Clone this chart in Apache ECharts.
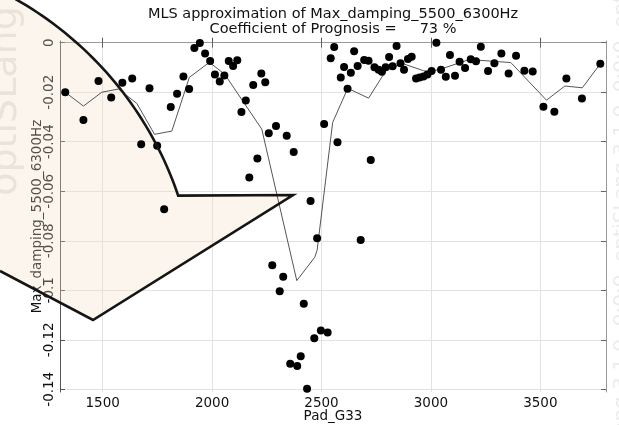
<!DOCTYPE html>
<html>
<head>
<meta charset="utf-8">
<script src="https://cdn.jsdelivr.net/npm/echarts@6/dist/echarts.min.js"></script>
<style>
  html, body { margin: 0; padding: 0; background: #fff; }
  #chart { width: 619px; height: 425px; }
</style>
</head>
<body>
<div id="chart"></div>
<script>
// 散点数据 (Pad_G33, Max_damping_5500_6300Hz)
var padX = [1329, 1412, 1481, 1539, 1590, 1635, 1676, 1714, 1749, 1781, 1811, 1840, 1869, 1895, 1919, 1944, 1968, 1991, 2013, 2035,
  2056, 2076, 2096, 2115, 2134, 2154, 2170, 2188, 2207, 2225, 2243, 2259, 2275, 2292, 2309, 2325, 2341, 2357, 2373, 2389,
  2405, 2419, 2434, 2450, 2467, 2480, 2497, 2512, 2528, 2542, 2558, 2573, 2588, 2603, 2619, 2634, 2649, 2665, 2679, 2695,
  2715, 2725, 2742, 2761, 2776, 2793, 2809, 2825, 2843, 2861, 2877, 2895, 2912, 2932, 2948, 2966, 2984, 3003, 3025, 3046,
  3068, 3087, 3110, 3131, 3156, 3182, 3206, 3228, 3261, 3290, 3322, 3355, 3389, 3427, 3465, 3514, 3564, 3619, 3690, 3774];
var dampY = [-0.0200, -0.0312, -0.0155, -0.0221, -0.0162, -0.0145, -0.0410, -0.0184, -0.0416, -0.0673, -0.0260, -0.0206, -0.0136, -0.0187, -0.0021, -0.0001, -0.0043, -0.0074, -0.0128, -0.0157,
  -0.0132, -0.0074, -0.0094, -0.0071, -0.0280, -0.0233, -0.0544, -0.0171, -0.0468, -0.0124, -0.0160, -0.0366, -0.0899, -0.0336, -0.1004, -0.0945, -0.0376, -0.1297, -0.0441, -0.1306,
  -0.1267, -0.1054, -0.1398, -0.0639, -0.1194, -0.0790, -0.1163, -0.0328, -0.1171, -0.0063, -0.0017, -0.0402, -0.0140, -0.0098, -0.0186, -0.0121, -0.0034, -0.0094, -0.0797, -0.0070,
  -0.0073, -0.0474, -0.0099, -0.0109, -0.0117, -0.0099, -0.0058, -0.0095, -0.0013, -0.0083, -0.0109, -0.0066, -0.0057, -0.0144, -0.0140, -0.0136, -0.0128, -0.0114, 0.0000, -0.0109,
  -0.0137, -0.0050, -0.0133, -0.0077, -0.0102, -0.0067, -0.0075, -0.0016, -0.0114, -0.0083, -0.0043, -0.0124, -0.0053, -0.0113, -0.0116, -0.0259, -0.0279, -0.0145, -0.0225, -0.0085];

// MLS 近似曲线
var mlsX = [1329, 1412, 1496, 1572, 1656, 1737, 1816, 1896, 1988, 2058, 2227, 2387, 2469, 2480, 2551, 2620, 2715, 2795, 2870, 2966,
  2995, 3050, 3175, 3365, 3528, 3612, 3692, 3774];
var mlsY = [-0.0200, -0.0256, -0.0200, -0.0187, -0.0245, -0.0370, -0.0357, -0.0140, -0.0079, -0.0128, -0.0349, -0.0961, -0.0867, -0.0838, -0.0322, -0.0184, -0.0224, -0.0112, -0.0084, -0.0113,
  -0.0117, -0.0105, -0.0068, -0.0080, -0.0232, -0.0175, -0.0182, -0.0085];

// 刻度
var xTicks = [1500, 2000, 2500, 3000, 3500];
var yTicks = [-0.14, -0.12, -0.1, -0.08, -0.06, -0.04, -0.02, 0];

var titleText = 'MLS approximation of Max_damping_5500_6300Hz\nCoefficient of Prognosis =     73 %';

function zip(a, b) {
    return a.map(function (v, i) { return [v, b[i]]; });
}

// 覆盖图形的圆弧轮廓 (像素坐标)
function logoOutline() {
    var cx = -160, cy = 310, r = 357;
    var a0 = Math.atan2(0 - cy, 15 - cx);
    var a1 = Math.atan2(195 - cy, 180 - cx);
    var pts = [];
    for (var i = 0; i <= 40; i++) {
        var a = a0 + (a1 - a0) * i / 40;
        pts.push([cx + r * Math.cos(a), cy + r * Math.sin(a)]);
    }
    pts.push([293, 195], [93, 320], [0, 271]);
    return pts;
}

function init() {
    var chart = echarts.init(document.getElementById('chart'));
    var font = 'DejaVu Sans';
    var xRange = { min: 1305, max: 3800 };
    var yRange = { min: -0.1411, max: 0.0007 };
    var outline = logoOutline();
    var fillPts = [[0, 0]].concat(outline);
    var plain = function (v) { return String(v); };

    var option = {
        animation: false,
        textStyle: { fontFamily: font },
        title: {
            text: titleText,
            left: 328, top: 2, textAlign: 'center',
            textStyle: { fontFamily: font, fontSize: 14.5, fontWeight: 'normal', color: '#111', lineHeight: 14.5 }
        },
        grid: { left: 60, right: 13, top: 41, bottom: 33, outerBoundsMode: 'none' },
        xAxis: [{
            type: 'value', min: xRange.min, max: xRange.max,
            name: 'Pad_G33', nameLocation: 'middle', nameGap: 17, nameMoveOverlap: false,
            nameTextStyle: { fontFamily: font, fontSize: 13.5, color: '#111' },
            axisLine: { show: true, lineStyle: { color: '#555', width: 1 } },
            axisTick: { show: true, inside: true, length: 5, customValues: xTicks, lineStyle: { color: '#555' } },
            axisLabel: { customValues: xTicks, formatter: plain, fontFamily: font, fontSize: 13.5, color: '#111', margin: 4 },
            splitLine: { show: true, lineStyle: { color: '#e2e2e2' } }
        }, {
            type: 'value', position: 'top', min: xRange.min, max: xRange.max,
            axisLine: { show: true, lineStyle: { color: '#999', width: 1 } },
            axisTick: { show: true, inside: true, length: 5, customValues: xTicks, lineStyle: { color: '#666' } },
            axisLabel: { show: false },
            splitLine: { show: false }
        }],
        yAxis: [{
            type: 'value', min: yRange.min, max: yRange.max,
            name: 'Max_damping_5500_6300Hz', nameLocation: 'middle', nameGap: 16, nameMoveOverlap: false,
            nameTextStyle: { fontFamily: font, fontSize: 13.5, color: '#111' },
            axisLine: { show: true, lineStyle: { color: '#555', width: 1 } },
            axisTick: { show: true, inside: true, length: 5, customValues: yTicks, lineStyle: { color: '#555' } },
            axisLabel: { customValues: yTicks, formatter: plain, rotate: 90, fontFamily: font, fontSize: 13.5, color: '#111', margin: 4 },
            splitLine: { show: true, lineStyle: { color: '#e2e2e2' } }
        }, {
            type: 'value', position: 'right', min: yRange.min, max: yRange.max,
            axisLine: { show: true, lineStyle: { color: '#999', width: 1 } },
            axisTick: { show: true, inside: true, length: 5, customValues: yTicks, lineStyle: { color: '#666' } },
            axisLabel: { show: false },
            splitLine: { show: false }
        }],
        graphic: [
            // 左侧水印
            {
                type: 'text', x: 25, y: 101, rotation: Math.PI / 2, z: 0, silent: true,
                style: { text: 'optiSLang', fontFamily: 'DejaVu Sans ExtraLight, DejaVu Sans', fontSize: 38, fill: '#e6e6e6', align: 'center', verticalAlign: 'bottom' }
            },
            // 右侧水印
            {
                type: 'text', x: 612, y: 212, rotation: Math.PI / 2, z: 0, silent: true,
                style: { text: 'optiSLang 3.1.0  0:0:0  optiSLang 3.1.0  0:0:0  optiSLang', fontFamily: 'DejaVu Sans ExtraLight, DejaVu Sans', fontSize: 20, fill: '#ececec', align: 'center', verticalAlign: 'top' }
            },
            // 覆盖图形 (填充)
            {
                type: 'polygon', z: 1, silent: true,
                shape: { points: fillPts },
                style: { fill: 'rgba(245,222,195,0.3)', stroke: null }
            },
            // 覆盖图形 (轮廓)
            {
                type: 'polyline', z: 5, silent: true,
                shape: { points: outline },
                style: { fill: null, stroke: '#151515', lineWidth: 2.6, lineJoin: 'miter' }
            }
        ],
        series: [{
            type: 'line',
            data: zip(mlsX, mlsY),
            showSymbol: false,
            lineStyle: { color: '#555', width: 1 },
            z: 2
        }, {
            type: 'scatter',
            data: zip(padX, dampY),
            symbolSize: 8,
            itemStyle: { color: '#000', opacity: 1 },
            z: 3
        }]
    };
    chart.setOption(option);
}

window.addEventListener('DOMContentLoaded', init);
</script>
</body>
</html>
